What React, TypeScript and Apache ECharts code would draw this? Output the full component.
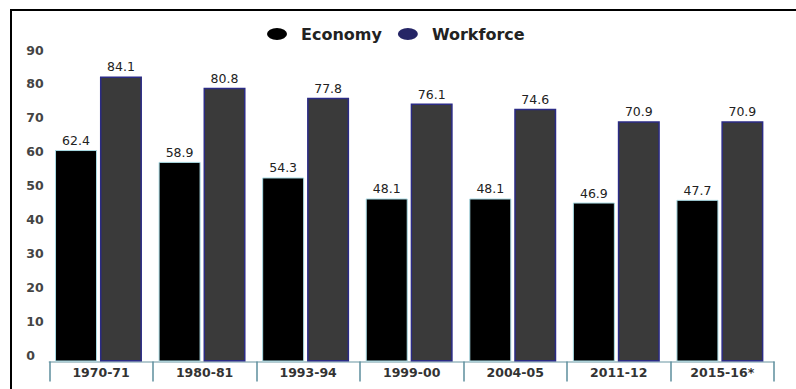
import React, { useEffect, useRef } from "react";
import * as echarts from "echarts";

const categories = ["1970-71", "1980-81", "1993-94", "1999-00", "2004-05", "2011-12", "2015-16*"];
const economyValues = [62.4, 58.9, 54.3, 48.1, 48.1, 46.9, 47.7];
const workforceValues = [84.1, 80.8, 77.8, 76.1, 74.6, 70.9, 70.9];
const seriesNames = ["Economy", "Workforce"];
const yTicks = { min: 0, max: 90, interval: 10 };

export default function App() {
  const ref = useRef<HTMLDivElement>(null);
  useEffect(() => {
    if (!ref.current) return;
    const chart = echarts.init(ref.current, null, { renderer: "svg" });
    const font = "DejaVu Sans";
    const ellipse = "path://M0,6A10,6 0 1,0 20,6A10,6 0 1,0 0,6Z";
    const labelStyle = {
      show: true,
      position: "top",
      distance: 3,
      fontFamily: font,
      fontSize: 12.5,
      color: "#222",
    };
    chart.setOption({
      animation: false,
      backgroundColor: "#ffffff",
      textStyle: { fontFamily: font },
      graphic: [
        {
          type: "rect",
          shape: { x: 11, y: 10, width: 820, height: 420 },
          style: { fill: "none", stroke: "#000", lineWidth: 2 },
          silent: true,
        },
      ],
      legend: {
        top: 21,
        left: 262,
        itemWidth: 20,
        itemHeight: 12,
        itemGap: 16,
        icon: ellipse,
        textStyle: {
          fontFamily: font,
          fontSize: 16,
          color: "#222",
          fontWeight: "bold",
          padding: [0, 0, 0, 9],
        },
        data: [
          { name: seriesNames[0], itemStyle: { color: "#000000", borderWidth: 0 } },
          { name: seriesNames[1], itemStyle: { color: "#252566", borderWidth: 0 } },
        ],
      },
      grid: [
        { left: 46.7, right: 24.3, top: 56.5, bottom: 27.5 },
        { left: 49.3, right: 22, top: 56.5, bottom: 27.5 },
      ],
      xAxis: [
        {
          type: "category",
          gridIndex: 0,
          data: categories,
          show: false,
        },
        {
          type: "category",
          gridIndex: 1,
          data: categories,
          axisLine: { show: true, lineStyle: { color: "#9ab8c0", width: 1.5 } },
          axisTick: { show: true, length: 20, lineStyle: { color: "#5d8e9c", width: 1.5 } },
          axisLabel: { fontFamily: font, fontSize: 12.5, fontWeight: "bold", color: "#333", margin: 4 },
        },
      ],
      yAxis: [
        {
          type: "value",
          gridIndex: 0,
          min: yTicks.min,
          max: yTicks.max,
          interval: yTicks.interval,
          axisLine: { show: false },
          axisTick: { show: false },
          splitLine: { show: false },
          axisLabel: {
            fontFamily: font,
            fontSize: 12.5,
            fontWeight: "bold",
            color: "#444",
            align: "left",
            verticalAlign: "bottom",
            margin: 20.5,
          },
        },
        {
          type: "value",
          gridIndex: 1,
          min: yTicks.min,
          max: yTicks.max,
          show: false,
        },
      ],
      series: [
        {
          name: seriesNames[0],
          type: "bar",
          xAxisIndex: 0,
          yAxisIndex: 0,
          data: economyValues,
          barWidth: 42,
          barGap: "7%",
          itemStyle: { color: "#000000", borderColor: "#a9dbe4", borderWidth: 1 },
          label: labelStyle,
        },
        {
          name: seriesNames[1],
          type: "bar",
          xAxisIndex: 0,
          yAxisIndex: 0,
          data: workforceValues,
          barWidth: 42,
          itemStyle: { color: "#3a3a3a", borderColor: "#2b2b85", borderWidth: 1.5 },
          label: labelStyle,
        },
      ],
    });
    return () => chart.dispose();
  }, []);
  return (
    <div
      ref={ref}
      style={{ position: "fixed", left: 0, top: 0, width: 796, height: 389 }}
    />
  );
}
